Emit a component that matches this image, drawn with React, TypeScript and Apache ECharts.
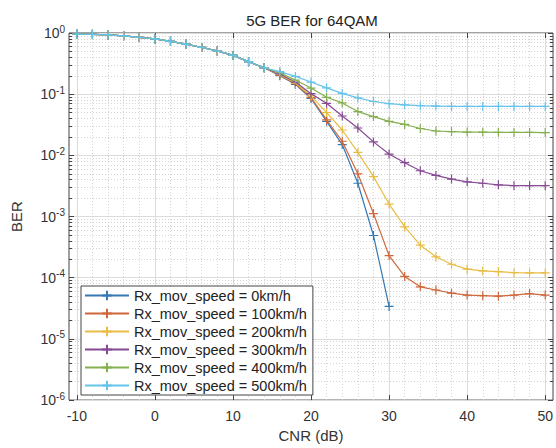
import React, { useEffect, useRef } from 'react';
import * as echarts from 'echarts';

const CNR = [-10, -8, -6, -4, -2, 0, 2, 4, 6, 8, 10, 12, 14, 16, 18, 20, 22, 24, 26, 28, 30, 32, 34, 36, 38, 40, 42, 44, 46, 48, 50];

const SERIES_NAMES = [
  'Rx_mov_speed = 0km/h',
  'Rx_mov_speed = 100km/h',
  'Rx_mov_speed = 200km/h',
  'Rx_mov_speed = 300km/h',
  'Rx_mov_speed = 400km/h',
  'Rx_mov_speed = 500km/h',
];

const BER_0 = [0.96, 0.95, 0.93, 0.9, 0.85, 0.8, 0.73, 0.66, 0.58, 0.51, 0.43, 0.34, 0.27, 0.2, 0.145, 0.085, 0.036, 0.015, 0.0035, 0.00049, 0.000034];
const BER_100 = [0.96, 0.95, 0.93, 0.9, 0.85, 0.8, 0.73, 0.66, 0.58, 0.51, 0.43, 0.34, 0.27, 0.205, 0.148, 0.088, 0.038, 0.017, 0.005, 0.00112, 0.00023, 0.000105, 0.000071, 0.000063, 0.000056, 0.000052, 0.000051, 0.00005, 0.000052, 0.000055, 0.000052];
const BER_200 = [0.96, 0.95, 0.93, 0.9, 0.85, 0.8, 0.73, 0.66, 0.58, 0.51, 0.43, 0.34, 0.27, 0.21, 0.152, 0.094, 0.05, 0.026, 0.0112, 0.0045, 0.0016, 0.00068, 0.00034, 0.00022, 0.000166, 0.000138, 0.000129, 0.000126, 0.000121, 0.00012, 0.00012];
const BER_300 = [0.96, 0.95, 0.93, 0.9, 0.85, 0.8, 0.73, 0.66, 0.58, 0.51, 0.43, 0.34, 0.27, 0.214, 0.158, 0.102, 0.071, 0.044, 0.028, 0.0166, 0.0105, 0.0076, 0.0056, 0.0047, 0.0041, 0.0037, 0.0035, 0.0033, 0.0032, 0.0032, 0.0032];
const BER_400 = [0.96, 0.95, 0.93, 0.9, 0.85, 0.8, 0.73, 0.66, 0.58, 0.51, 0.43, 0.34, 0.27, 0.224, 0.17, 0.126, 0.089, 0.072, 0.052, 0.043, 0.036, 0.032, 0.0275, 0.025, 0.0245, 0.024, 0.024, 0.0238, 0.0237, 0.0237, 0.0236];
const BER_500 = [0.96, 0.95, 0.93, 0.9, 0.85, 0.8, 0.73, 0.66, 0.58, 0.51, 0.43, 0.34, 0.27, 0.234, 0.195, 0.158, 0.127, 0.103, 0.087, 0.076, 0.07, 0.067, 0.065, 0.064, 0.063, 0.063, 0.063, 0.063, 0.063, 0.063, 0.063];

const SERIES_VALUES = [BER_0, BER_100, BER_200, BER_300, BER_400, BER_500];
const COLORS = ['#3479b4', '#d0673a', '#e8bc45', '#864a93', '#85b04f', '#66c3ea'];

const X_TICKS = [-10, 0, 10, 20, 30, 40, 50];
const X_MINOR = [-8, -6, -4, -2, 2, 4, 6, 8, 12, 14, 16, 18, 22, 24, 26, 28, 32, 34, 36, 38, 42, 44, 46, 48];
const Y_TICKS = [1e-6, 1e-5, 1e-4, 1e-3, 1e-2, 1e-1, 1];
const Y_MINOR: number[] = [];
for (let e = -6; e < 0; e++) {
  for (let k = 2; k <= 9; k++) Y_MINOR.push(k * Math.pow(10, e));
}

const FONT = "'Liberation Sans', Arial, sans-serif";
const PLUS = 'path://M0,5L10,5M5,0L5,10';

export default function App() {
  const ref = useRef<HTMLDivElement>(null);
  useEffect(() => {
    if (!ref.current) return;
    const chart = echarts.init(ref.current, null, { renderer: 'svg' });
    const common = { min: -11, max: 51, type: 'value' as const };
    const ycommon = { type: 'log' as const, logBase: 10, min: 1e-6, max: 1 };
    const noLine = { show: false, onZero: false };
    const option: any = {
      animation: false,
      backgroundColor: '#fff',
      textStyle: { fontFamily: FONT },
      graphic: [
        {
          type: 'text',
          x: 312,
          y: 20,
          style: { text: '5G BER for 64QAM', fontSize: 15, fontFamily: FONT, fill: '#222', align: 'center', verticalAlign: 'middle' },
        },
      ],
      grid: { left: 69, right: 1, top: 33, bottom: 45, show: true, borderColor: '#444', borderWidth: 1, backgroundColor: 'transparent' },
      legend: {
        orient: 'vertical',
        left: 81,
        top: 286,
        itemWidth: 44,
        itemHeight: 12,
        itemGap: 3,
        padding: [2, 6, 2, 3],
        backgroundColor: '#fff',
        borderColor: '#444',
        borderWidth: 1,
        textStyle: { fontSize: 14.5, color: '#222', fontFamily: FONT },
        data: SERIES_NAMES,
      },
      xAxis: [
        {
          ...common,
          position: 'bottom',
          axisLine: noLine,
          axisTick: { inside: true, length: 5, customValues: X_TICKS, lineStyle: { color: '#444' } },
          axisLabel: { customValues: X_TICKS, margin: 9, fontSize: 14, color: '#333', fontFamily: FONT },
          splitLine: { show: true, customValues: X_TICKS, lineStyle: { color: '#dcdcdc', width: 1 } },
          name: 'CNR (dB)',
          nameLocation: 'middle',
          nameGap: 24,
          nameTextStyle: { fontSize: 15, color: '#333', fontFamily: FONT },
        },
        {
          ...common,
          position: 'bottom',
          offset: 0,
          axisLine: noLine,
          axisTick: { show: false, customValues: X_MINOR },
          axisLabel: { show: false },
          splitLine: { show: true, customValues: X_MINOR, lineStyle: { color: '#d4d4d4', width: 1, type: [1, 2] } },
        },
        {
          ...common,
          position: 'top',
          axisLine: noLine,
          axisTick: { inside: true, length: 5, customValues: X_TICKS, lineStyle: { color: '#444' } },
          axisLabel: { show: false },
          splitLine: { show: false },
        },
      ],
      yAxis: [
        {
          ...ycommon,
          position: 'left',
          axisLine: noLine,
          axisTick: { inside: true, length: 5, customValues: Y_TICKS, lineStyle: { color: '#444' } },
          axisLabel: {
            customValues: Y_TICKS,
            margin: 4,
            formatter: (v: number) => `{b|10}{s|${Math.round(Math.log10(v))}}`,
            rich: {
              b: { fontSize: 14, color: '#333', padding: [2, 0, 2, 0], fontFamily: FONT },
              s: { fontSize: 10, color: '#333', verticalAlign: 'top', fontFamily: FONT },
            },
          },
          splitLine: { show: true, customValues: Y_TICKS, lineStyle: { color: '#dcdcdc', width: 1 } },
          name: 'BER',
          nameLocation: 'middle',
          nameGap: 45,
          nameTextStyle: { fontSize: 15, color: '#333', fontFamily: FONT },
        },
        {
          ...ycommon,
          position: 'right',
          offset: 0,
          axisLine: noLine,
          axisTick: { inside: true, length: 5, customValues: Y_TICKS, lineStyle: { color: '#444' } },
          axisLabel: { show: false },
          splitLine: { show: false },
        },
        {
          ...ycommon,
          position: 'left',
          offset: 0,
          axisLine: noLine,
          axisTick: { inside: true, length: 3, customValues: Y_MINOR, lineStyle: { color: '#444' } },
          axisLabel: { show: false },
          splitLine: { show: true, customValues: Y_MINOR, lineStyle: { color: '#d4d4d4', width: 1, type: [1, 2] } },
        },
        {
          ...ycommon,
          position: 'right',
          offset: 0,
          axisLine: noLine,
          axisTick: { inside: true, length: 3, customValues: Y_MINOR, lineStyle: { color: '#444' } },
          axisLabel: { show: false },
          splitLine: { show: false },
        },
      ],
      series: SERIES_NAMES.map((name, i) => ({
        name,
        type: 'line',
        xAxisIndex: 0,
        yAxisIndex: 0,
        data: SERIES_VALUES[i].map((v, j) => [CNR[j], v]),
        symbol: PLUS,
        symbolSize: 9,
        showSymbol: true,
        color: COLORS[i],
        lineStyle: { color: COLORS[i], width: 1.2 },
        itemStyle: { color: COLORS[i], borderColor: COLORS[i], borderWidth: 1.2 },
        z: 2 + i,
      })),
    };
    chart.setOption(option);
    return () => chart.dispose();
  }, []);
  return <div ref={ref} style={{ position: 'fixed', left: 0, top: 0, width: 556, height: 448 }} />;
}
